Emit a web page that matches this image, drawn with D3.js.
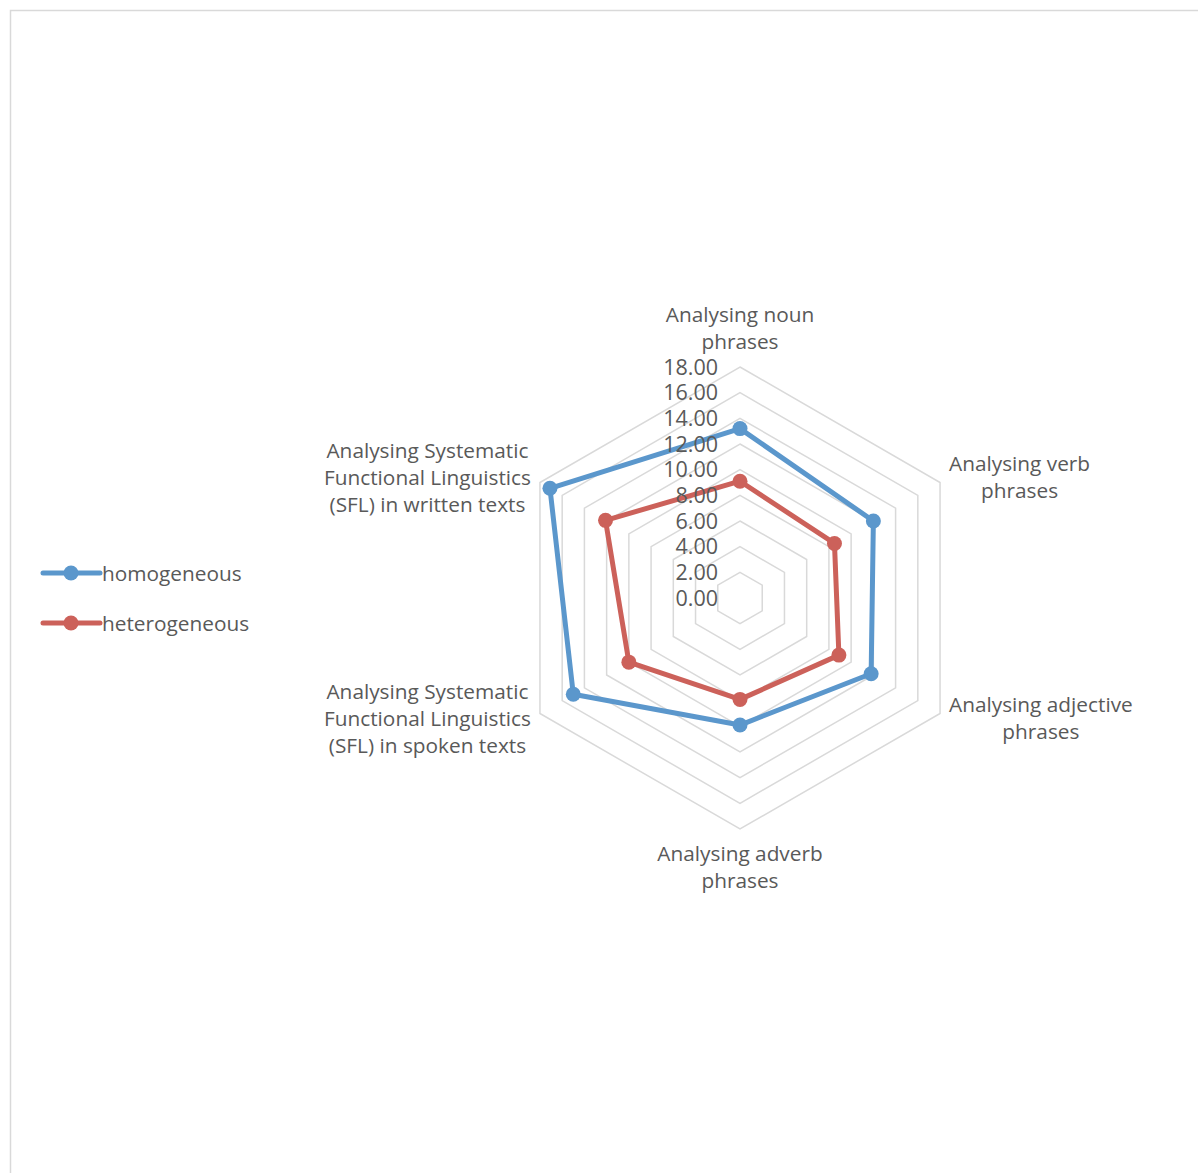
<!DOCTYPE html>
<html><head><meta charset="utf-8">
<script src="https://cdn.jsdelivr.net/npm/d3@7"></script>
<style>
html,body{margin:0;padding:0;background:#fff;}
svg{display:block;}
text{font-family:"Open Sans",sans-serif;fill:#595959;}
</style></head>
<body>
<svg id="chart" width="1198" height="1173"></svg>
<script>
const categories = [
  ["Analysing noun","phrases"],
  ["Analysing verb","phrases"],
  ["Analysing adjective","phrases"],
  ["Analysing adverb","phrases"],
  ["Analysing Systematic","Functional Linguistics","(SFL) in spoken texts"],
  ["Analysing Systematic","Functional Linguistics","(SFL) in written texts"]
];
const seriesNames = ["homogeneous","heterogeneous"];
const homogeneous = [13.2, 12.0, 11.8, 9.9, 15.0, 17.1];
const heterogeneous = [9.1, 8.5, 8.9, 7.9, 10.0, 12.1];
const tickValues = [0,2,4,6,8,10,12,14,16,18];
const tickLabels = ["0.00","2.00","4.00","6.00","8.00","10.00","12.00","14.00","16.00","18.00"];
const colors = ["#5b97cc","#cc615a"];

const svg = d3.select("#chart");
const W = 1198, H = 1173;
svg.append("rect").attr("x",10.5).attr("y",10.5).attr("width",W).attr("height",H)
  .attr("fill","#fff").attr("stroke","#d9d9d9").attr("stroke-width",1.5);

const cx = 740, cy = 598, R = 231;
const r = d3.scaleLinear().domain([0,18]).range([0,R]);
const n = categories.length;
const ang = d3.scaleLinear().domain([0,n]).range([0,2*Math.PI]);
const pt = (i,v) => [cx + r(v)*Math.sin(ang(i)), cy - r(v)*Math.cos(ang(i))];

const g = svg.append("g");
// grid rings
tickValues.filter(t=>t>0).forEach(t=>{
  const pts = d3.range(n).map(i=>pt(i,t));
  g.append("path").attr("d", d3.line()(pts)+"Z")
    .attr("fill","none").attr("stroke","#d9d9d9").attr("stroke-width",1.5);
});

// series
const allSeries = [homogeneous, heterogeneous];
allSeries.forEach((vals,si)=>{
  const pts = vals.map((v,i)=>pt(i,v));
  g.append("path").attr("d", d3.line()(pts)+"Z")
    .attr("fill","none").attr("stroke",colors[si]).attr("stroke-width",5)
    .attr("stroke-linejoin","round");
  g.selectAll(null).data(pts).enter().append("circle")
    .attr("cx",d=>d[0]).attr("cy",d=>d[1]).attr("r",7.5).attr("fill",colors[si]);
});

// tick labels
tickValues.forEach((t,k)=>{
  g.append("text").attr("x",cx-22).attr("y",cy - r(t)).attr("dy","0.36em")
    .attr("text-anchor","end").style("font-size","21.5px").text(tickLabels[k]);
});

// category labels
const fs = 20.8, lh = 27;
categories.forEach((lines,i)=>{
  const v = pt(i,18);
  const tg = g.append("g");
  const texts = lines.map((l,j)=>tg.append("text").attr("text-anchor","middle")
    .style("font-size",fs+"px").attr("y", j*lh).text(l));
  const wmax = d3.max(texts, t=>t.node().getComputedTextLength());
  const blockH = (lines.length-1)*lh;
  const s = Math.sin(ang(i)), c = Math.cos(ang(i));
  let x, y;
  if (Math.abs(s) < 0.01) {
    x = v[0];
    y = c > 0 ? v[1] - 18 - blockH : v[1] + 25 + 7;
  } else {
    x = v[0] + (s>0 ? 1 : -1)*(9 + wmax/2);
    y = v[1] - blockH/2 + 7 + (c>0 ? -5 : 5);
  }
  tg.attr("transform",`translate(${x},${y})`);
});

// legend
seriesNames.forEach((name,si)=>{
  const ly = 573 + si*50;
  const lg = svg.append("g").attr("transform",`translate(43,${ly})`);
  lg.append("line").attr("x1",0).attr("x2",57).attr("y1",0).attr("y2",0)
    .attr("stroke",colors[si]).attr("stroke-width",5).attr("stroke-linecap","round");
  lg.append("circle").attr("cx",28).attr("cy",0).attr("r",7.5).attr("fill",colors[si]);
  lg.append("text").attr("x",59).attr("y",0).attr("dy","0.36em")
    .style("font-size",fs+"px").text(name);
});
</script>
</body></html>
